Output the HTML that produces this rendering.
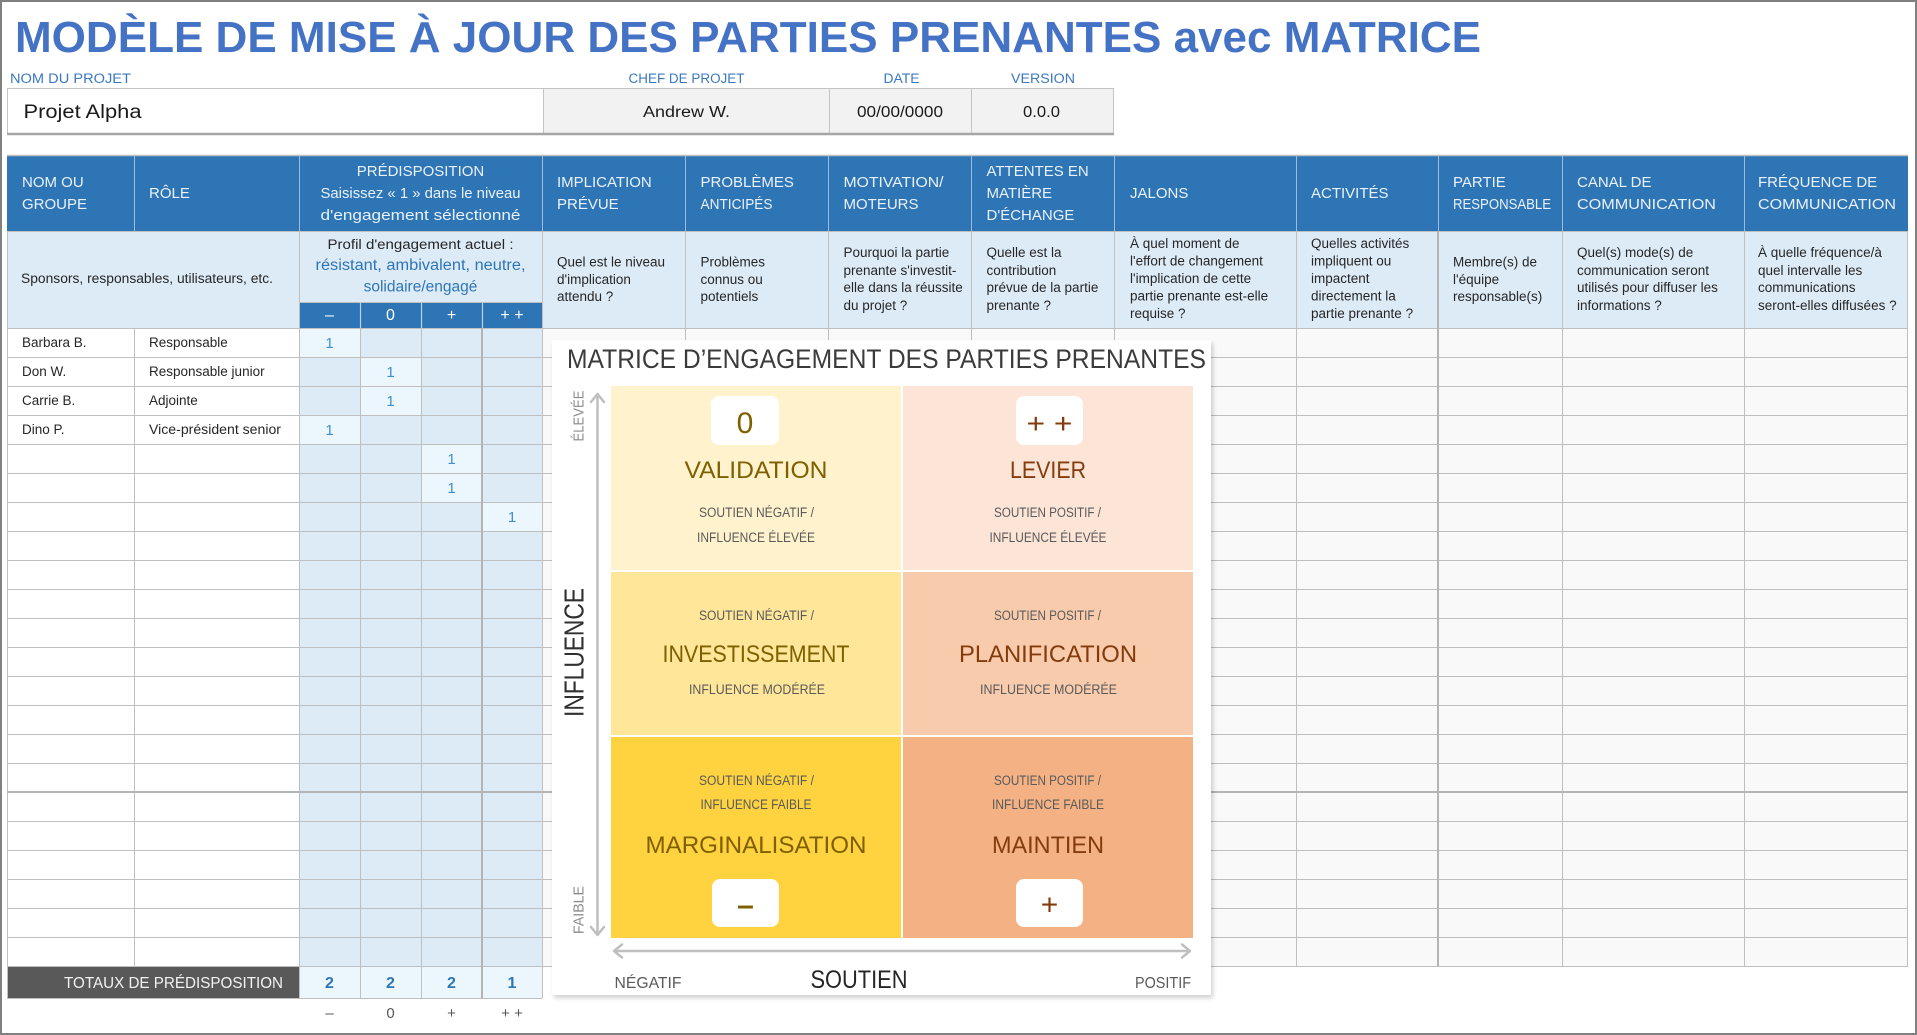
<!DOCTYPE html>
<html lang="fr">
<head>
<meta charset="utf-8">
<title>Modèle de mise à jour des parties prenantes avec matrice</title>
<style>
html,body{margin:0;padding:0;background:#fff;overflow:hidden;}
svg{display:block;}
text{font-family:"Liberation Sans",sans-serif;}
</style>
</head>
<body>
<svg width="1917" height="1035" viewBox="0 0 1917 1035" xmlns="http://www.w3.org/2000/svg">
<defs>
<filter id="sh" x="-5%" y="-5%" width="110%" height="110%"><feGaussianBlur stdDeviation="2.5"/></filter>
</defs>
<rect x="0" y="0" width="1917" height="1035" fill="#fff"/>

<!-- Title -->
<text x="15" y="52" font-size="44" font-weight="bold" fill="#4472C4" textLength="1466" lengthAdjust="spacingAndGlyphs">MODÈLE DE MISE À JOUR DES PARTIES PRENANTES avec MATRICE</text>

<!-- Project info labels -->
<g font-size="13.5" fill="#3A78C0">
<text x="10" y="83" textLength="121" lengthAdjust="spacingAndGlyphs">NOM DU PROJET</text>
<text x="628.5" y="83" textLength="116" lengthAdjust="spacingAndGlyphs">CHEF DE PROJET</text>
<text x="883.5" y="83" textLength="36" lengthAdjust="spacingAndGlyphs">DATE</text>
<text x="1011" y="83" textLength="64" lengthAdjust="spacingAndGlyphs">VERSION</text>
</g>
<!-- Project info box -->
<rect x="7" y="88" width="536" height="46" fill="#fff"/>
<rect x="543" y="88" width="571" height="46" fill="#F2F2F2"/>
<path d="M7 88.5H1114 M7.5 88V134 M543.5 88V134 M829.5 88V134 M971.5 88V134 M1113.5 88V134" stroke="#C4C4C4" stroke-width="1" fill="none"/>
<path d="M7 134H1114" stroke="#A6A6A6" stroke-width="2.5"/>
<text x="23.5" y="118" font-size="19" fill="#1a1a1a" textLength="118" lengthAdjust="spacingAndGlyphs">Projet Alpha</text>
<g font-size="15.5" fill="#1a1a1a">
<text x="643" y="117" textLength="87" lengthAdjust="spacingAndGlyphs">Andrew W.</text>
<text x="857" y="117" textLength="86" lengthAdjust="spacingAndGlyphs">00/00/0000</text>
<text x="1023" y="117" textLength="37" lengthAdjust="spacingAndGlyphs">0.0.0</text>
</g>

<!-- Header row -->
<rect x="7" y="155" width="1901" height="76" fill="#2E75B6"/>
<path d="M7 155.5H1908" stroke="#BFBFBF" stroke-width="1.5"/>
<path d="M134.5 155V231 M299.5 155V231 M542.5 155V231 M685.5 155V231 M828.5 155V231 M971.5 155V231 M1114.5 155V231 M1296.5 155V231 M1438.5 155V231 M1562.5 155V231 M1744.5 155V231" stroke="#9DBCDD" stroke-width="1"/>
<g font-size="15" fill="#EAF1FB">
<text x="22" y="187">NOM OU</text>
<text x="22" y="209">GROUPE</text>
<text x="149" y="198">RÔLE</text>
<text x="420.5" y="176" text-anchor="middle">PRÉDISPOSITION</text>
<text x="420.5" y="198" text-anchor="middle" textLength="200" lengthAdjust="spacingAndGlyphs">Saisissez « 1 » dans le niveau</text>
<text x="420.5" y="220" text-anchor="middle" textLength="200" lengthAdjust="spacingAndGlyphs">d'engagement sélectionné</text>
<text x="557" y="187">IMPLICATION</text>
<text x="557" y="209">PRÉVUE</text>
<text x="700.5" y="187">PROBLÈMES</text>
<text x="700.5" y="209" textLength="72" lengthAdjust="spacingAndGlyphs">ANTICIPÉS</text>
<text x="843.5" y="187" textLength="100" lengthAdjust="spacingAndGlyphs">MOTIVATION/</text>
<text x="843.5" y="209">MOTEURS</text>
<text x="986.5" y="176">ATTENTES EN</text>
<text x="986.5" y="198">MATIÈRE</text>
<text x="986.5" y="220">D'ÉCHANGE</text>
<text x="1130" y="198">JALONS</text>
<text x="1311" y="198">ACTIVITÉS</text>
<text x="1453" y="187">PARTIE</text>
<text x="1453" y="209" textLength="98" lengthAdjust="spacingAndGlyphs">RESPONSABLE</text>
<text x="1577" y="187">CANAL DE</text>
<text x="1577" y="209" textLength="139" lengthAdjust="spacingAndGlyphs">COMMUNICATION</text>
<text x="1758" y="187">FRÉQUENCE DE</text>
<text x="1758" y="209" textLength="138" lengthAdjust="spacingAndGlyphs">COMMUNICATION</text>
</g>

<!-- Sub header -->
<rect x="7" y="231" width="1901" height="97" fill="#DDEBF7"/>
<rect x="299" y="302" width="243" height="26" fill="#2E75B6"/>
<path d="M7 231.5H1908 M299.5 231V328 M542.5 231V328 M685.5 231V328 M828.5 231V328 M971.5 231V328 M1114.5 231V328 M1296.5 231V328 M1438.5 231V328 M1562.5 231V328 M1744.5 231V328 M7.5 231V328 M299 302.5H542" stroke="#BFBFBF" stroke-width="1"/>
<path d="M360.5 302V328 M421.5 302V328 M482.5 302V328" stroke="#BFCFE0" stroke-width="1.2"/>
<g font-size="16" fill="#ffffff" text-anchor="middle">
<text x="329.5" y="320">–</text>
<text x="390.5" y="320">0</text>
<text x="451.5" y="320">+</text>
<text x="512" y="320">+ +</text>
</g>
<g font-size="13.5" fill="#262626">
<text x="21" y="283" textLength="252" lengthAdjust="spacingAndGlyphs">Sponsors, responsables, utilisateurs, etc.</text>
<text x="420.5" y="249" text-anchor="middle" textLength="186" lengthAdjust="spacingAndGlyphs">Profil d'engagement actuel :</text>
<text x="557" y="266.5">Quel est le niveau</text>
<text x="557" y="284">d'implication</text>
<text x="557" y="301">attendu ?</text>
<text x="700.5" y="266.5">Problèmes</text>
<text x="700.5" y="284">connus ou</text>
<text x="700.5" y="301">potentiels</text>
<text x="843.5" y="257">Pourquoi la partie</text>
<text x="843.5" y="275">prenante s'investit-</text>
<text x="843.5" y="292">elle dans la réussite</text>
<text x="843.5" y="310">du projet ?</text>
<text x="986.5" y="257">Quelle est la</text>
<text x="986.5" y="275">contribution</text>
<text x="986.5" y="292">prévue de la partie</text>
<text x="986.5" y="310">prenante ?</text>
<text x="1130" y="248">À quel moment de</text>
<text x="1130" y="265.5">l'effort de changement</text>
<text x="1130" y="283">l'implication de cette</text>
<text x="1130" y="300.5">partie prenante est-elle</text>
<text x="1130" y="318">requise ?</text>
<text x="1311" y="248">Quelles activités</text>
<text x="1311" y="265.5">impliquent ou</text>
<text x="1311" y="283">impactent</text>
<text x="1311" y="300.5">directement la</text>
<text x="1311" y="318">partie prenante ?</text>
<text x="1453" y="266.5">Membre(s) de</text>
<text x="1453" y="284">l'équipe</text>
<text x="1453" y="301">responsable(s)</text>
<text x="1577" y="257">Quel(s) mode(s) de</text>
<text x="1577" y="275">communication seront</text>
<text x="1577" y="292">utilisés pour diffuser les</text>
<text x="1577" y="310">informations ?</text>
<text x="1758" y="257">À quelle fréquence/à</text>
<text x="1758" y="275">quel intervalle les</text>
<text x="1758" y="292">communications</text>
<text x="1758" y="310">seront-elles diffusées ?</text>
</g>
<g font-size="15.5" fill="#2E75B6" text-anchor="middle">
<text x="420.5" y="270" textLength="210" lengthAdjust="spacingAndGlyphs">résistant, ambivalent, neutre,</text>
<text x="420.5" y="291.5">solidaire/engagé</text>
</g>

<!-- Data rows backgrounds -->
<rect x="7" y="328" width="292" height="638" fill="#ffffff"/>
<rect x="299" y="328" width="243" height="638" fill="#DDEBF7"/>
<rect x="542" y="328" width="1366" height="638" fill="#F9F9F9"/>
<g fill="#EBF7FD">
<rect x="299" y="328" width="61" height="29"/>
<rect x="360" y="357" width="61" height="29"/>
<rect x="360" y="386" width="61" height="29"/>
<rect x="299" y="415" width="61" height="29"/>
<rect x="421" y="444" width="61" height="29"/>
<rect x="421" y="473" width="61" height="29"/>
<rect x="482" y="502" width="60" height="29"/>
</g>
<!-- Totals row -->
<rect x="7" y="966" width="292" height="32" fill="#595959"/>
<rect x="299" y="966" width="243" height="32" fill="#EBF7FD"/>

<!-- Grid -->
<path d="M7 328.5H1908 M7 357.5H1908 M7 386.5H1908 M7 415.5H1908 M7 444.5H1908 M7 473.5H1908 M7 502.5H1908 M7 531.5H1908 M7 560.5H1908 M7 589.5H1908 M7 618.5H1908 M7 647.5H1908 M7 676.5H1908 M7 705.5H1908 M7 734.5H1908 M7 763.5H1908 M7 821.5H1908 M7 850.5H1908 M7 879.5H1908 M7 908.5H1908 M7 937.5H1908 M7 966.5H1908 M7 998.5H542
M7.5 328V998 M134.5 328V966 M299.5 328V998 M360.5 328V998 M421.5 328V998 M542.5 328V998 M685.5 328V966 M828.5 328V966 M971.5 328V966 M1114.5 328V966 M1296.5 328V966 M1562.5 328V966 M1744.5 328V966 M1907.5 231V966" stroke="#BFBFBF" stroke-width="1" fill="none"/>
<path d="M7 792H1908 M482 328V998 M1438 231V966" stroke="#B4B4B4" stroke-width="2" fill="none"/>

<!-- Data text -->
<g font-size="13.5" fill="#262626">
<text x="22" y="347">Barbara B.</text>
<text x="149" y="347">Responsable</text>
<text x="22" y="376">Don W.</text>
<text x="149" y="376">Responsable junior</text>
<text x="22" y="405">Carrie B.</text>
<text x="149" y="405">Adjointe</text>
<text x="22" y="434">Dino P.</text>
<text x="149" y="434" textLength="132" lengthAdjust="spacingAndGlyphs">Vice-président senior</text>
</g>
<g font-size="15" fill="#3E8ED0" text-anchor="middle">
<text x="329.5" y="348">1</text>
<text x="390.5" y="377">1</text>
<text x="390.5" y="406">1</text>
<text x="329.5" y="435">1</text>
<text x="451.5" y="464">1</text>
<text x="451.5" y="493">1</text>
<text x="512" y="522">1</text>
</g>

<!-- Totals text -->
<text x="283" y="988" text-anchor="end" font-size="16" fill="#F2F2F2" textLength="219" lengthAdjust="spacingAndGlyphs">TOTAUX DE PRÉDISPOSITION</text>
<g font-size="16" font-weight="bold" fill="#2E75B6" text-anchor="middle">
<text x="329.5" y="988">2</text>
<text x="390.5" y="988">2</text>
<text x="451.5" y="988">2</text>
<text x="512" y="988">1</text>
</g>
<g font-size="15" fill="#595959" text-anchor="middle">
<text x="329.5" y="1018">–</text>
<text x="390.5" y="1018">0</text>
<text x="451.5" y="1018">+</text>
<text x="512" y="1018">+ +</text>
</g>

<!-- Matrix panel -->
<rect x="554" y="343" width="659" height="655" fill="#000" opacity="0.18" filter="url(#sh)"/>
<rect x="552" y="340" width="659" height="655" fill="#ffffff"/>
<text x="567" y="368" font-size="27" fill="#3b3b3b" textLength="639" lengthAdjust="spacingAndGlyphs">MATRICE D’ENGAGEMENT DES PARTIES PRENANTES</text>

<!-- Quadrants -->
<rect x="611" y="386" width="290" height="184" fill="#FFF2CC"/>
<rect x="903" y="386" width="290" height="184" fill="#FCE4D6"/>
<rect x="611" y="572" width="290" height="163" fill="#FFE699"/>
<rect x="903" y="572" width="290" height="163" fill="#F8CBAD"/>
<rect x="611" y="737" width="290" height="201" fill="#FFD23F"/>
<rect x="903" y="737" width="290" height="201" fill="#F4B183"/>

<!-- Boxes -->
<rect x="711" y="396" width="68" height="49" rx="8" fill="#ffffff"/>
<rect x="1016" y="396" width="67" height="49" rx="8" fill="#ffffff"/>
<rect x="712" y="879" width="67" height="48" rx="8" fill="#ffffff"/>
<rect x="1016" y="879" width="67" height="48" rx="8" fill="#ffffff"/>
<text x="745" y="433" font-size="30" fill="#7F6000" text-anchor="middle">0</text>
<text x="1049.5" y="433" font-size="28" fill="#843C0C" text-anchor="middle" textLength="46" lengthAdjust="spacingAndGlyphs">+ +</text>
<text x="745.5" y="915" font-size="30" font-weight="bold" fill="#7F6000" text-anchor="middle">–</text>
<text x="1049.5" y="914.5" font-size="30" fill="#843C0C" text-anchor="middle">+</text>

<!-- Quadrant texts -->
<g font-size="24.5">
<text x="756" y="478" fill="#7F6000" text-anchor="middle" textLength="143" lengthAdjust="spacingAndGlyphs">VALIDATION</text>
<text x="1048" y="478" fill="#843C0C" text-anchor="middle" textLength="76" lengthAdjust="spacingAndGlyphs">LEVIER</text>
<text x="756" y="662" fill="#7F6000" text-anchor="middle" textLength="187" lengthAdjust="spacingAndGlyphs">INVESTISSEMENT</text>
<text x="1048" y="662" fill="#843C0C" text-anchor="middle" textLength="178" lengthAdjust="spacingAndGlyphs">PLANIFICATION</text>
<text x="756" y="853" fill="#7F6000" text-anchor="middle" textLength="221" lengthAdjust="spacingAndGlyphs">MARGINALISATION</text>
<text x="1048" y="853" fill="#843C0C" text-anchor="middle" textLength="112" lengthAdjust="spacingAndGlyphs">MAINTIEN</text>
</g>
<g font-size="13.5" fill="#5a5a5a" text-anchor="middle">
<text x="756.5" y="517" textLength="115" lengthAdjust="spacingAndGlyphs">SOUTIEN NÉGATIF /</text>
<text x="756" y="542" textLength="118" lengthAdjust="spacingAndGlyphs">INFLUENCE ÉLEVÉE</text>
<text x="1047.5" y="517" textLength="107" lengthAdjust="spacingAndGlyphs">SOUTIEN POSITIF /</text>
<text x="1048" y="542" textLength="117" lengthAdjust="spacingAndGlyphs">INFLUENCE ÉLEVÉE</text>
<text x="756.5" y="620" textLength="115" lengthAdjust="spacingAndGlyphs">SOUTIEN NÉGATIF /</text>
<text x="757" y="694" textLength="136" lengthAdjust="spacingAndGlyphs">INFLUENCE MODÉRÉE</text>
<text x="1047.5" y="620" textLength="107" lengthAdjust="spacingAndGlyphs">SOUTIEN POSITIF /</text>
<text x="1048.5" y="694" textLength="137" lengthAdjust="spacingAndGlyphs">INFLUENCE MODÉRÉE</text>
<text x="756.5" y="785" textLength="115" lengthAdjust="spacingAndGlyphs">SOUTIEN NÉGATIF /</text>
<text x="756" y="809" textLength="111" lengthAdjust="spacingAndGlyphs">INFLUENCE FAIBLE</text>
<text x="1047.5" y="785" textLength="107" lengthAdjust="spacingAndGlyphs">SOUTIEN POSITIF /</text>
<text x="1048" y="809" textLength="112" lengthAdjust="spacingAndGlyphs">INFLUENCE FAIBLE</text>
</g>

<!-- Axes -->
<g stroke="#BFBFBF" stroke-width="2.5" fill="none" stroke-linecap="round" stroke-linejoin="round">
<path d="M597.5 395V934"/>
<path d="M591 402L597.5 394L604 402"/>
<path d="M591 927L597.5 935L604 927"/>
<path d="M615 951H1189"/>
<path d="M622 944.5L614 951L622 957.5"/>
<path d="M1182 944.5L1190 951L1182 957.5"/>
</g>
<text transform="translate(583.5,416) rotate(-90)" font-size="15" fill="#8C8C8C" text-anchor="middle" textLength="51" lengthAdjust="spacingAndGlyphs">ÉLEVÉE</text>
<text transform="translate(583.5,652.5) rotate(-90)" font-size="28" fill="#303030" text-anchor="middle" textLength="129" lengthAdjust="spacingAndGlyphs">INFLUENCE</text>
<text transform="translate(583.5,910) rotate(-90)" font-size="15" fill="#8C8C8C" text-anchor="middle" textLength="48" lengthAdjust="spacingAndGlyphs">FAIBLE</text>
<text x="614.5" y="988" font-size="15.5" fill="#595959" textLength="67" lengthAdjust="spacingAndGlyphs">NÉGATIF</text>
<text x="810.5" y="988" font-size="25" fill="#262626" textLength="97" lengthAdjust="spacingAndGlyphs">SOUTIEN</text>
<text x="1135" y="988" font-size="15.5" fill="#595959" textLength="56" lengthAdjust="spacingAndGlyphs">POSITIF</text>

<!-- Outer frame -->
<rect x="1" y="1" width="1915" height="1033" fill="none" stroke="#808080" stroke-width="2"/>
</svg>
</body>
</html>
